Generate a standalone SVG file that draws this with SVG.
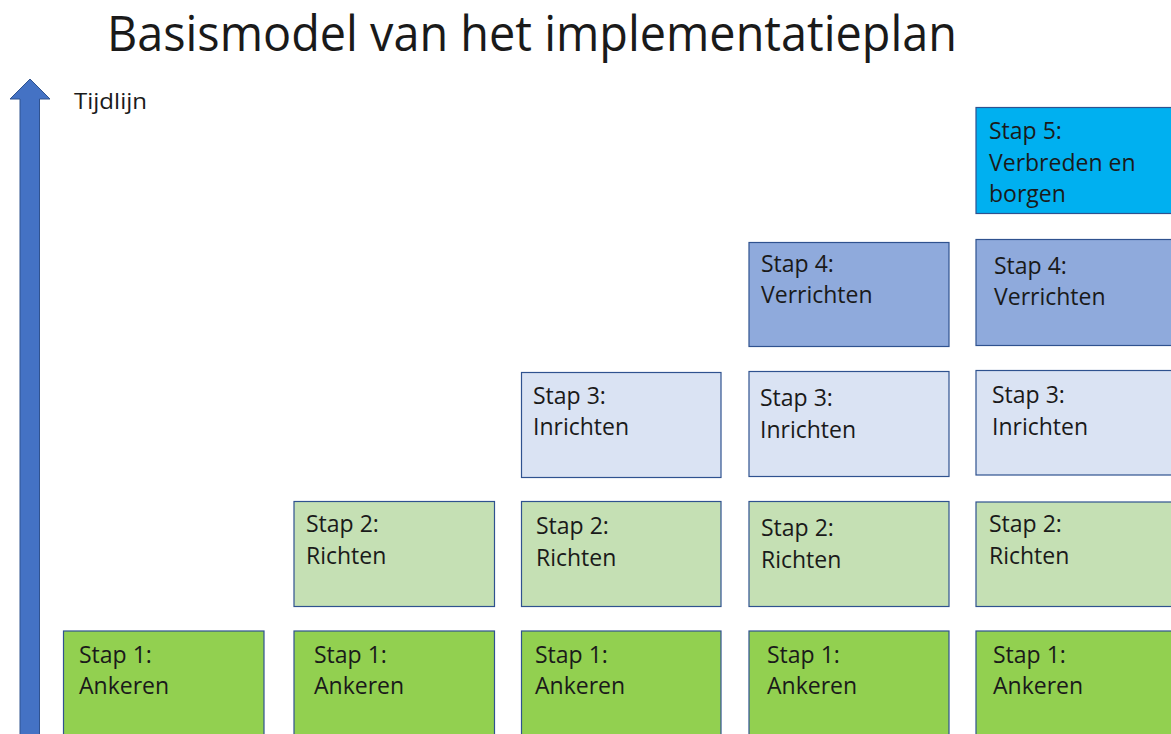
<svg xmlns="http://www.w3.org/2000/svg" width="1171" height="734" viewBox="0 0 1171 734">
<style>
.box{stroke:#2F528F;stroke-width:1.2}
.s1{fill:#92D050}
.s2{fill:#C5E0B4}
.s3{fill:#DAE3F3}
.s4{fill:#8FAADC}
.s5{fill:#00B0F0}
text{font-family:"Open Sans","Liberation Sans",sans-serif;fill:#1a1a1a}
.t{font-size:23px}
</style>
<rect width="1171" height="734" fill="#ffffff"/>
<text x="107" y="51" font-size="49" textLength="850" lengthAdjust="spacingAndGlyphs">Basismodel van het implementatieplan</text>
<g id="timeline">
<path d="M20,740 L20,99 L10,99 L30,79 L50,99 L39.5,99 L39.5,740 Z" fill="#4472C4" stroke="#2F528F" stroke-width="1"/>
<text x="74" y="109" font-size="22" textLength="73" lengthAdjust="spacingAndGlyphs">Tijdlijn</text>
</g>
<g id="connectors"></g>
<g id="c1s1"><rect class="box s1" x="63.5" y="631" width="200.5" height="106"/><text class="t" x="79" y="663">Stap 1:</text><text class="t" x="79" y="694">Ankeren</text></g>
<g id="c2s1"><rect class="box s1" x="294" y="631" width="200.5" height="106"/><text class="t" x="314" y="663">Stap 1:</text><text class="t" x="314" y="694">Ankeren</text></g>
<g id="c2s2"><rect class="box s2" x="294" y="501.5" width="200.5" height="105"/><text class="t" x="306" y="532">Stap 2:</text><text class="t" x="306" y="564">Richten</text></g>
<g id="c3s1"><rect class="box s1" x="521.5" y="631" width="199.5" height="106"/><text class="t" x="535" y="663">Stap 1:</text><text class="t" x="535" y="694">Ankeren</text></g>
<g id="c3s2"><rect class="box s2" x="521.5" y="501.5" width="199.5" height="105"/><text class="t" x="536" y="534">Stap 2:</text><text class="t" x="536" y="566">Richten</text></g>
<g id="c3s3"><rect class="box s3" x="521.5" y="372.5" width="199.5" height="105"/><text class="t" x="533" y="404">Stap 3:</text><text class="t" x="533" y="435">Inrichten</text></g>
<g id="c4s1"><rect class="box s1" x="749" y="631" width="200" height="106"/><text class="t" x="767" y="663">Stap 1:</text><text class="t" x="767" y="694">Ankeren</text></g>
<g id="c4s2"><rect class="box s2" x="749" y="501.5" width="200" height="105"/><text class="t" x="761" y="536">Stap 2:</text><text class="t" x="761" y="568">Richten</text></g>
<g id="c4s3"><rect class="box s3" x="749" y="371.5" width="200" height="105"/><text class="t" x="760" y="406">Stap 3:</text><text class="t" x="760" y="438">Inrichten</text></g>
<g id="c4s4"><rect class="box s4" x="749" y="242.5" width="200" height="104"/><text class="t" x="761" y="272">Stap 4:</text><text class="t" x="761" y="303">Verrichten</text></g>
<g id="c5s1"><rect class="box s1" x="976" y="631" width="200" height="106"/><text class="t" x="993" y="663">Stap 1:</text><text class="t" x="993" y="694">Ankeren</text></g>
<g id="c5s2"><rect class="box s2" x="976" y="502" width="200" height="104.5"/><text class="t" x="989" y="532">Stap 2:</text><text class="t" x="989" y="564">Richten</text></g>
<g id="c5s3"><rect class="box s3" x="976" y="370.5" width="200" height="104.5"/><text class="t" x="992" y="403">Stap 3:</text><text class="t" x="992" y="435">Inrichten</text></g>
<g id="c5s4"><rect class="box s4" x="976" y="239.5" width="200" height="106"/><text class="t" x="994" y="274">Stap 4:</text><text class="t" x="994" y="305">Verrichten</text></g>
<g id="c5s5"><rect class="box s5" x="976" y="107.5" width="200" height="106"/><text class="t" x="989" y="139">Stap 5:</text><text class="t" x="989" y="171">Verbreden en</text><text class="t" x="989" y="202">borgen</text></g>
</svg>
